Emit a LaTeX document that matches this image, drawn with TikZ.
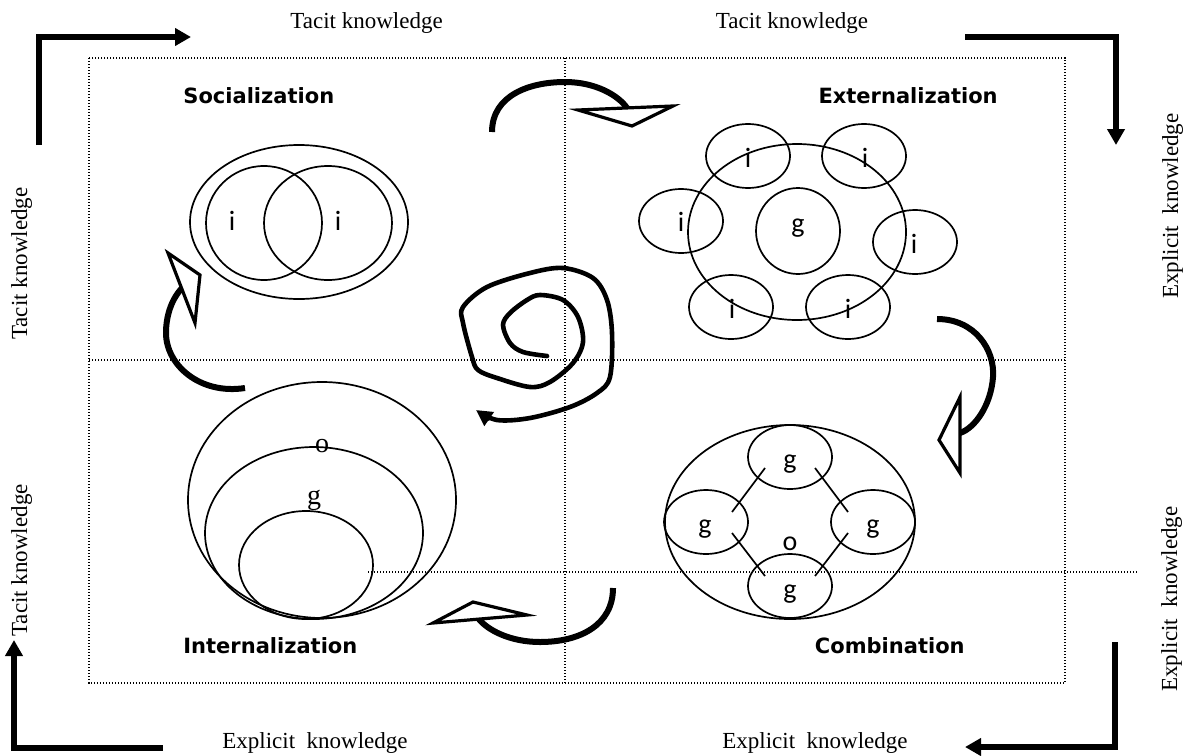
\documentclass[tikz,border=0pt]{standalone}
\usepackage{fontspec}
\setmainfont{Liberation Serif}
\newfontfamily\headfont{DejaVu Sans}
\newfontfamily\lblfont{Carlito}
\usetikzlibrary{shapes.geometric,arrows.meta,calc}

\begin{document}
\begin{tikzpicture}[x=0.5pt, y=-0.5pt,
  frame/.style={line width=0.6pt, dash pattern=on 0.6pt off 0.9pt},
  edge/.style={line width=0.85pt},
  blob/.style 2 args={ellipse, draw, line width=0.85pt, minimum width=#1*0.5pt, minimum height=#2*0.5pt, inner sep=0pt},
  cornerarrow/.style={line width=2.8pt, line join=miter, -{Triangle[length=8pt,width=8.5pt]}},
  sidelabel/.style={font=\fontsize{11.5}{13}\selectfont, inner sep=0pt},
  phase/.style={font=\headfont\bfseries\fontsize{10.5}{12}\selectfont, inner sep=0pt},
  lbl/.style={font=\lblfont\fontsize{14}{16}\selectfont, inner sep=0pt, anchor=base},
  serlbl/.style={font=\fontsize{14}{16}\selectfont, inner sep=0pt, anchor=base},
  turn/.style={line width=3pt},
  turnhead/.style={draw, line width=1.6pt, fill=white, line join=miter},
  coil/.style={line width=2.3pt, line cap=round, line join=round, -{Triangle[length=8pt,width=8pt]}}
]
\useasboundingbox (0,0) rectangle (1186,755);

% ---- dotted quadrant frame ----
\coordinate (f1) at (89,58);
\coordinate (f2) at (1065,683);
\draw[frame] (f1) rectangle (f2);
\draw[frame] (565,58) -- (565,683);
\draw[frame] (89,360) -- (1065,360);
\draw[frame] (368,572) -- (1138,572);

% ---- corner arrows ----
\coordinate (tlA) at (39,145);  \coordinate (tlB) at (191,37);
\coordinate (trA) at (965,37);  \coordinate (trB) at (1116,145);
\coordinate (brA) at (1115,642); \coordinate (brB) at (965,747);
\coordinate (blA) at (163,748); \coordinate (blB) at (14,640);
\draw[cornerarrow] (tlA) |- (tlB);
\draw[cornerarrow] (trA) -| (trB);
\draw[cornerarrow] (brA) |- (brB);
\draw[cornerarrow] (blA) -| (blB);

% ---- side labels ----
\node[sidelabel, anchor=base west] (t1) at (290,28) {Tacit knowledge};
\node[sidelabel, anchor=base] (t2) at (792,28) {Tacit knowledge};
\node[sidelabel, anchor=base west] (b1) at (222,748) {Explicit~~knowledge};
\node[sidelabel, anchor=base east] (b2) at (908,748) {Explicit~~knowledge};
\node[sidelabel, rotate=90, anchor=base east] (l1) at (27,187) {Tacit knowledge};
\node[sidelabel, rotate=90, anchor=base west] (l2) at (27,637) {Tacit knowledge};
\node[sidelabel, rotate=90, anchor=base east] (r1) at (1178,113) {Explicit~~knowledge};
\node[sidelabel, rotate=90, anchor=base west] (r2) at (1177,692) {Explicit~~knowledge};

% ---- phase titles ----
\node[phase, anchor=base west] (soc) at (183,103) {Socialization};
\node[phase, anchor=base east] (ext) at (998,103) {Externalization};
\node[phase, anchor=base west] (int) at (183,653) {Internalization};
\node[phase, anchor=base east] (com) at (965,653) {Combination};

% ---- socialization ----
\node[blob={218}{154}] (sout) at (299,222) {};
\node[blob={116}{114}] (sl) at (264,223) {};
\node[blob={128}{114}] (sr) at (328,223) {};
\node[lbl] at (232,230) {i};
\node[lbl] at (338,230) {i};

% ---- externalization ----
\node[blob={218}{176}] (eout) at (797,232) {};
\node[blob={84}{86}] (eg) at (798,231) {};
\node[blob={84}{64}] (e1) at (748,156) {};
\node[blob={84}{64}] (e2) at (864,156) {};
\node[blob={84}{64}] (e3) at (681,221) {};
\node[blob={84}{64}] (e4) at (915,242) {};
\node[blob={84}{64}] (e5) at (731,307) {};
\node[blob={84}{64}] (e6) at (848,307) {};
\node[lbl] at (748,167) {i};
\node[lbl] at (865,167) {i};
\node[lbl] at (681,231) {i};
\node[lbl] at (914,253) {i};
\node[lbl] at (732,318) {i};
\node[lbl] at (848,318) {i};
\node[lbl] at (798,232) {g};

% ---- combination ----
\node[blob={250}{194}] (cout) at (790,522) {};
\node[blob={84}{64}] (gt) at (790,457) {};
\node[blob={84}{64}] (gl) at (706,522) {};
\node[blob={84}{64}] (gr) at (873,522) {};
\node[blob={84}{64}] (gb) at (790,586) {};
\draw[edge] ($(gt)+(-25,11)$) -- ($(gl)+(26,-10)$);
\draw[edge] ($(gt)+(25,11)$) -- ($(gr)+(-25,-10)$);
\draw[edge] ($(gl)+(26,11)$) -- ($(gb)+(-25,-10)$);
\draw[edge] ($(gr)+(-25,11)$) -- ($(gb)+(25,-10)$);
\node[lbl] at (790,468) {g};
\node[lbl] at (705,533) {g};
\node[lbl] at (873,533) {g};
\node[lbl] at (790,598) {g};
\node[lbl] at (790,550) {o};

% ---- internalization ----
\node[blob={268}{236}] (iout) at (322,500) {};
\node[blob={218}{172}] (imid) at (314,533) {};
\node[blob={134}{108}] (iin) at (306,565) {};
\node[serlbl] at (322,452) {o};
\node[serlbl] at (314,504) {g};

% ---- turning arrows between the phases ----
\draw[turn] (492,132) .. controls (492,95) and (530,82) .. (565,82)
            .. controls (595,82) and (618,95) .. (627,108);
\draw[turnhead] (578,110) -- (673,106) -- (632,126) -- cycle;

\draw[turn] (937,319) .. controls (975,319) and (995,350) .. (993,377)
            .. controls (991,405) and (975,428) .. (960,433);
\draw[turnhead] (960,397) -- (939,440) -- (960,473) -- cycle;

\draw[turn] (613,588) .. controls (613,625) and (580,642) .. (540,642)
            .. controls (510,642) and (487,630) .. (478,618);
\draw[turnhead] (433,623) -- (473,602) -- (527,615) -- cycle;

\draw[turn] (245,388) .. controls (200,395) and (166,365) .. (166,333)
            .. controls (166,315) and (172,298) .. (183,287);
\draw[turnhead] (168,253) -- (200,275) -- (195,323) -- cycle;

% ---- central spiral ----
\draw[coil] plot[smooth, tension=0.55] coordinates {
  (547,356) (523,352) (510,343) (503,325) (510,313) (527,300) (540,295)
  (563,300) (578,317) (583,342) (573,363) (550,382) (530,387) (497,378)
  (478,370) (472,357) (463,323) (463,307) (487,287) (530,273) (563,268)
  (593,278) (607,300) (612,333) (610,377) (597,393) (570,407) (530,418)
  (497,420) (476,410)};
\end{tikzpicture}
\end{document}
